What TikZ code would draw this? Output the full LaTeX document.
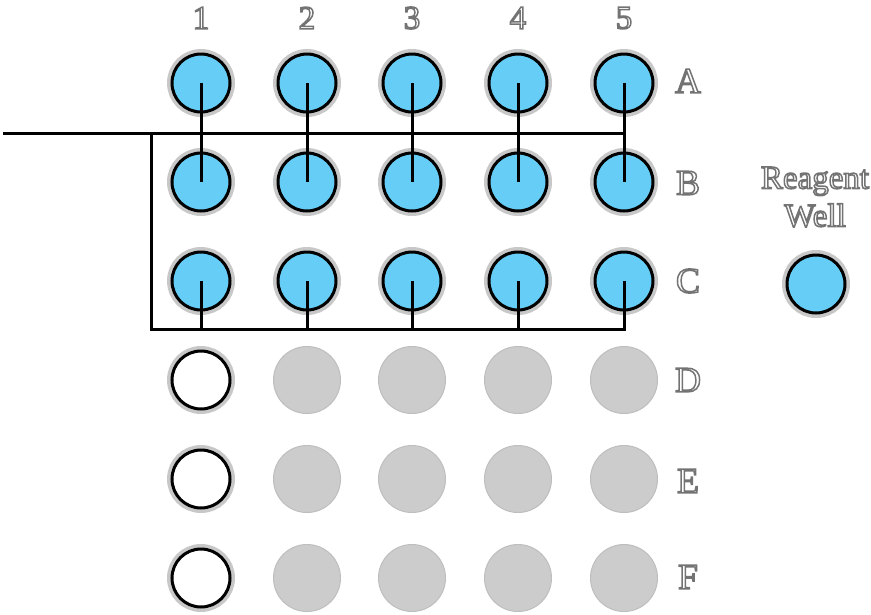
\documentclass[tikz,border=0pt]{standalone}
\usepackage{fontspec}
\setmainfont{Liberation Serif}
\definecolor{wellblue}{RGB}{102,206,246}
\definecolor{ringgray}{RGB}{200,200,200}
\definecolor{diskgray}{RGB}{204,204,204}
\definecolor{diskedge}{RGB}{190,190,190}
\definecolor{labelgray}{RGB}{115,115,115}
\newcommand{\outl}[1]{\special{pdf:code 1 Tr 1.5 w}#1\special{pdf:code 0 Tr}}
\begin{document}
\begin{tikzpicture}[x=1pt,y=-1pt,
  wellfull/.style={circle, inner sep=0pt, minimum size=58pt, fill=wellblue, draw=black, line width=3pt, preaction={draw=ringgray, line width=10pt}},
  wellempty/.style={wellfull, fill=white},
  wellgray/.style={circle, inner sep=0pt, minimum size=67pt, fill=diskgray, draw=diskedge, line width=1pt},
  lbl/.style={font=\fontsize{33}{37}\selectfont, inner sep=0pt, align=center, text=labelgray},
  rowlbl/.style={lbl, font=\fontsize{36}{40}\selectfont},
  wire/.style={line width=3pt, draw=black, line cap=rect}]
\useasboundingbox (0,0) rectangle (871,614);
% wells
\foreach \c/\x in {1/201,2/307,3/412,4/518,5/624}{
  \foreach \r/\y in {A/83,B/182,C/281}{
    \node[wellfull] (w-\r-\c) at (\x,\y) {};
  }
  \node[lbl] (col-\c) at (\x,18) {\outl{\c}};
}
\foreach \r/\y in {D/380,E/479,F/578}{
  \node[wellempty] (w-\r-1) at (201,\y) {};
  \foreach \c/\x in {2/307,3/412,4/518,5/624}{
    \node[wellgray] (w-\r-\c) at (\x,\y) {};
  }
}
\foreach \r/\y in {A/81,B/183,C/281,D/380,E/481,F/577}{
  \node[rowlbl] (row-\r) at (688,\y) {\outl{\r}};
}
% legend
\node[lbl] (legtext) at (815,197) {\outl{Reagent}\\[1pt]\outl{Well}};
\node[wellfull] (legwell) at (816,284) {};
% wires
\coordinate (in) at (3,133);
\coordinate (tl) at (151,133);
\coordinate (bl) at (151,329);
\coordinate (tr) at (w-A-5 |- in);
\coordinate (br) at (w-C-5 |- bl);
\draw[wire, line cap=butt] (in) -- (tr);
\draw[wire] (tl) -- (bl) -- (br);
\foreach \c in {1,...,5}{
  \draw[wire, line cap=butt] (w-A-\c.center) -- (w-B-\c.center);
  \draw[wire, line cap=butt] (w-C-\c.center) -- (w-C-\c |- bl);
}
\end{tikzpicture}
\end{document}
